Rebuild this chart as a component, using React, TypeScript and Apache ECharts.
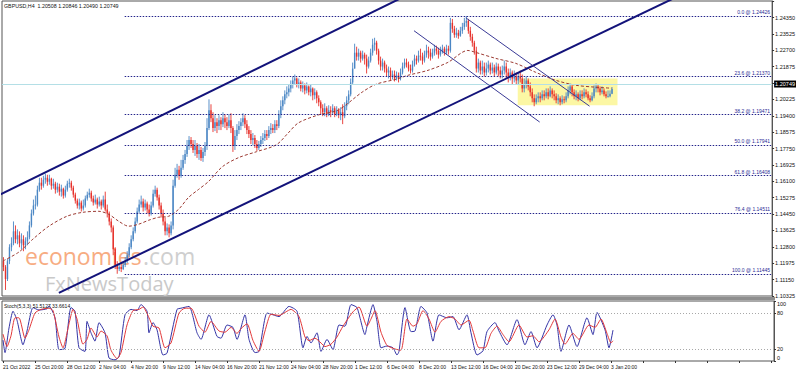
import React, { useEffect, useRef } from 'react';
import * as echarts from 'echarts';

const symbolTitle = 'GBPUSD,H4  1.20508 1.20846 1.20490 1.20749';
const stochTitle = 'Stoch(5,3,3) 51.5127 33.6614';

const dateLabels = ['21 Oct 2022', '25 Oct 20:00', '28 Oct 12:00', '2 Nov 04:00', '4 Nov 20:00', '9 Nov 12:00', '14 Nov 04:00', '16 Nov 20:00', '21 Nov 12:00', '24 Nov 04:00', '28 Nov 20:00', '1 Dec 12:00', '6 Dec 04:00', '8 Dec 20:00', '13 Dec 12:00', '16 Dec 04:00', '20 Dec 20:00', '23 Dec 12:00', '29 Dec 04:00', '3 Jan 20:00'];
const BARS_PER_LABEL = 16;
const TOTAL_SLOTS = 386;

const firstOpen = 1.1208;
const closes = [
  1.1178, 1.1118, 1.1208, 1.1278, 1.1298, 1.1358, 1.1318, 1.1338, 1.1298, 1.1318, 1.1288, 1.1308, 1.1328, 1.1388, 1.1448, 1.1488,
  1.1493, 1.1568, 1.1603, 1.1588, 1.1618, 1.1628, 1.1608, 1.1623, 1.1588, 1.1598, 1.1568, 1.1583, 1.1558, 1.1573, 1.1538, 1.1568,
  1.1598, 1.1603, 1.1578, 1.1543, 1.1513, 1.1488, 1.1503, 1.1473, 1.1488, 1.1523, 1.1543, 1.1553, 1.1523, 1.1503, 1.1518, 1.1493,
  1.1508, 1.1488, 1.1518, 1.1468, 1.1448, 1.1408, 1.1378, 1.1268, 1.1188, 1.1168, 1.1178, 1.1168, 1.1188, 1.1208, 1.1238, 1.1278,
  1.1318, 1.1358, 1.1408, 1.1458, 1.1493, 1.1508, 1.1478, 1.1498, 1.1468, 1.1448, 1.1488, 1.1548, 1.1568, 1.1528, 1.1488, 1.1448,
  1.1408, 1.1358, 1.1378, 1.1348, 1.1388, 1.1588, 1.1643, 1.1668, 1.1638, 1.1678, 1.1718, 1.1748, 1.1788, 1.1818, 1.1798, 1.1768,
  1.1788, 1.1748, 1.1768, 1.1728, 1.1758, 1.1788, 1.1878, 1.1968, 1.1928, 1.1878, 1.1908, 1.1888, 1.1918, 1.1898, 1.1928, 1.1908,
  1.1888, 1.1918, 1.1878, 1.1788, 1.1838, 1.1868, 1.1888, 1.1908, 1.1928, 1.1898, 1.1868, 1.1848, 1.1818, 1.1828, 1.1798, 1.1778,
  1.1798, 1.1818, 1.1828, 1.1848, 1.1838, 1.1868, 1.1878, 1.1868, 1.1898, 1.1888, 1.1948, 1.1988, 1.2018, 1.2048, 1.2058, 1.2078,
  1.2098, 1.2118, 1.2128, 1.2098, 1.2108, 1.2078, 1.2093, 1.2068, 1.2088, 1.2058, 1.2078, 1.2043, 1.2058, 1.2028, 1.2008, 1.1978,
  1.1958, 1.1978, 1.1948, 1.1968, 1.1958, 1.1978, 1.1948, 1.1968, 1.1943, 1.1958, 1.1938, 1.1988, 1.2018, 1.2048, 1.2108, 1.2178,
  1.2258, 1.2238, 1.2258, 1.2228, 1.2248, 1.2228, 1.2188, 1.2218, 1.2258, 1.2298, 1.2308, 1.2268, 1.2218, 1.2188, 1.2208, 1.2178,
  1.2158, 1.2168, 1.2138, 1.2148, 1.2128, 1.2143, 1.2128, 1.2158, 1.2188, 1.2208, 1.2198, 1.2178, 1.2168, 1.2198, 1.2228, 1.2218,
  1.2243, 1.2238, 1.2218, 1.2248, 1.2268, 1.2258, 1.2238, 1.2258, 1.2278, 1.2268, 1.2248, 1.2268, 1.2278, 1.2258, 1.2278, 1.2268,
  1.2408, 1.2378, 1.2348, 1.2358, 1.2343, 1.2368, 1.2388, 1.2408, 1.2418, 1.2368, 1.2338, 1.2308, 1.2268, 1.2178, 1.2208, 1.2168,
  1.2188, 1.2158, 1.2178, 1.2198, 1.2168, 1.2183, 1.2158, 1.2188, 1.2168, 1.2148, 1.2168, 1.2188, 1.2158, 1.2138, 1.2158, 1.2128,
  1.2138, 1.2118, 1.2138, 1.2128, 1.2078, 1.2098, 1.2118, 1.2088, 1.2058, 1.2028, 1.2008, 1.2028, 1.2038, 1.2028, 1.2048, 1.2038,
  1.2058, 1.2038, 1.2068, 1.2048, 1.2038, 1.2018, 1.2028, 1.2008, 1.2023, 1.2018, 1.2038, 1.2068, 1.2088, 1.2058, 1.2038, 1.2048,
  1.2028, 1.2048, 1.2038, 1.2058, 1.2048, 1.2028, 1.2018, 1.2038, 1.2078, 1.2088, 1.2078, 1.2058, 1.2068, 1.2048, 1.2038, 1.2038,
  1.20508, 1.20749,
];
const highs = [
  1.1228, 1.1188, 1.1218, 1.1293, 1.1328, 1.1408, 1.1388, 1.1368, 1.1358, 1.1348, 1.1338, 1.1328, 1.1358, 1.1408, 1.1468, 1.1518,
  1.1538, 1.1588, 1.1628, 1.1628, 1.1638, 1.1648, 1.1643, 1.1643, 1.1628, 1.1623, 1.1608, 1.1603, 1.1598, 1.1593, 1.1578, 1.1588,
  1.1613, 1.1623, 1.1613, 1.1588, 1.1553, 1.1523, 1.1523, 1.1513, 1.1518, 1.1538, 1.1558, 1.1573, 1.1563, 1.1538, 1.1543, 1.1528,
  1.1533, 1.1518, 1.1538, 1.1558, 1.1493, 1.1458, 1.1423, 1.1388, 1.1278, 1.1208, 1.1193, 1.1198, 1.1208, 1.1228, 1.1258, 1.1298,
  1.1338, 1.1378, 1.1428, 1.1478, 1.1518, 1.1538, 1.1523, 1.1518, 1.1508, 1.1493, 1.1508, 1.1568, 1.1588, 1.1578, 1.1543, 1.1503,
  1.1468, 1.1428, 1.1398, 1.1393, 1.1408, 1.1618, 1.1678, 1.1698, 1.1688, 1.1718, 1.1743, 1.1768, 1.1818, 1.1838, 1.1833, 1.1818,
  1.1818, 1.1803, 1.1798, 1.1783, 1.1778, 1.1808, 1.1928, 1.2023, 1.1998, 1.1958, 1.1943, 1.1928, 1.1943, 1.1933, 1.1958, 1.1948,
  1.1933, 1.1948, 1.1953, 1.1888, 1.1868, 1.1898, 1.1913, 1.1928, 1.1953, 1.1943, 1.1918, 1.1888, 1.1868, 1.1853, 1.1843, 1.1818,
  1.1813, 1.1838, 1.1853, 1.1868, 1.1868, 1.1888, 1.1903, 1.1898, 1.1918, 1.1918, 1.1968, 1.2018, 1.2038, 1.2068, 1.2088, 1.2098,
  1.2118, 1.2138, 1.2148, 1.2133, 1.2128, 1.2118, 1.2113, 1.2103, 1.2108, 1.2093, 1.2098, 1.2083, 1.2078, 1.2068, 1.2043, 1.2018,
  1.1998, 1.2003, 1.1988, 1.1993, 1.1988, 1.1998, 1.1988, 1.1988, 1.1978, 1.1983, 1.1998, 1.2008, 1.2038, 1.2068, 1.2128, 1.2208,
  1.2303, 1.2288, 1.2278, 1.2268, 1.2268, 1.2258, 1.2248, 1.2238, 1.2278, 1.2328, 1.2333, 1.2318, 1.2278, 1.2238, 1.2228, 1.2218,
  1.2198, 1.2188, 1.2183, 1.2168, 1.2168, 1.2163, 1.2158, 1.2178, 1.2208, 1.2228, 1.2228, 1.2213, 1.2198, 1.2218, 1.2248, 1.2243,
  1.2268, 1.2278, 1.2258, 1.2268, 1.2298, 1.2288, 1.2278, 1.2278, 1.2298, 1.2293, 1.2283, 1.2288, 1.2298, 1.2288, 1.2298, 1.2293,
  1.2433, 1.2428, 1.2393, 1.2383, 1.2373, 1.2388, 1.2408, 1.2433, 1.24426, 1.2428, 1.2388, 1.2353, 1.2318, 1.2288, 1.2228, 1.2218,
  1.2218, 1.2208, 1.2208, 1.2218, 1.2208, 1.2208, 1.2198, 1.2208, 1.2203, 1.2188, 1.2193, 1.2218, 1.2208, 1.2178, 1.2178, 1.2168,
  1.2168, 1.2158, 1.2158, 1.2168, 1.2148, 1.2128, 1.2138, 1.2128, 1.2108, 1.2078, 1.2048, 1.2048, 1.2058, 1.2058, 1.2068, 1.2068,
  1.2078, 1.2078, 1.2088, 1.2078, 1.2068, 1.2053, 1.2048, 1.2038, 1.2043, 1.2038, 1.2058, 1.2088, 1.2103, 1.2098, 1.2073, 1.2068,
  1.2058, 1.2068, 1.2068, 1.2078, 1.2073, 1.2063, 1.2043, 1.2058, 1.2093, 1.2103, 1.2098, 1.2088, 1.2088, 1.2078, 1.2063, 1.2068,
  1.2068, 1.20846,
];
const lows = [
  1.1158, 1.1063, 1.1108, 1.1193, 1.1258, 1.1288, 1.1298, 1.1293, 1.1278, 1.1268, 1.1258, 1.1268, 1.1288, 1.1318, 1.1378, 1.1438,
  1.1468, 1.1483, 1.1558, 1.1568, 1.1578, 1.1598, 1.1588, 1.1593, 1.1568, 1.1573, 1.1548, 1.1553, 1.1538, 1.1533, 1.1523, 1.1528,
  1.1558, 1.1578, 1.1563, 1.1528, 1.1498, 1.1473, 1.1468, 1.1458, 1.1463, 1.1478, 1.1513, 1.1528, 1.1508, 1.1488, 1.1493, 1.1473,
  1.1483, 1.1468, 1.1478, 1.1458, 1.1428, 1.1388, 1.1353, 1.1238, 1.1168, 1.11445, 1.1158, 1.1153, 1.1163, 1.1178, 1.1198, 1.1228,
  1.1268, 1.1308, 1.1348, 1.1398, 1.1448, 1.1478, 1.1458, 1.1463, 1.1448, 1.1433, 1.1438, 1.1478, 1.1533, 1.1513, 1.1468, 1.1428,
  1.1388, 1.1338, 1.1338, 1.1328, 1.1338, 1.1368, 1.1578, 1.1628, 1.1618, 1.1628, 1.1668, 1.1698, 1.1733, 1.1768, 1.1778, 1.1753,
  1.1738, 1.1728, 1.1718, 1.1713, 1.1708, 1.1738, 1.1768, 1.1868, 1.1908, 1.1858, 1.1863, 1.1853, 1.1868, 1.1868, 1.1883, 1.1878,
  1.1868, 1.1878, 1.1853, 1.1758, 1.1768, 1.1818, 1.1848, 1.1868, 1.1888, 1.1878, 1.1848, 1.1828, 1.1798, 1.1793, 1.1778, 1.1763,
  1.1768, 1.1783, 1.1798, 1.1813, 1.1818, 1.1828, 1.1848, 1.1853, 1.1853, 1.1868, 1.1878, 1.1928, 1.1968, 1.1998, 1.2028, 1.2038,
  1.2058, 1.2078, 1.2098, 1.2083, 1.2078, 1.2063, 1.2058, 1.2048, 1.2053, 1.2043, 1.2038, 1.2018, 1.2023, 1.2003, 1.1988, 1.1948,
  1.1938, 1.1938, 1.1933, 1.1938, 1.1933, 1.1948, 1.1933, 1.1938, 1.1928, 1.1918, 1.1898, 1.1928, 1.1968, 1.1998, 1.2038, 1.2098,
  1.2188, 1.2218, 1.2218, 1.2208, 1.2218, 1.2198, 1.2153, 1.2178, 1.2208, 1.2243, 1.2268, 1.2248, 1.2198, 1.2168, 1.2168, 1.2158,
  1.2138, 1.2128, 1.2118, 1.2123, 1.2113, 1.2118, 1.2108, 1.2118, 1.2148, 1.2178, 1.2183, 1.2163, 1.2153, 1.2158, 1.2188, 1.2198,
  1.2208, 1.2218, 1.2198, 1.2208, 1.2233, 1.2228, 1.2218, 1.2228, 1.2243, 1.2248, 1.2228, 1.2238, 1.2253, 1.2243, 1.2248, 1.2248,
  1.2258, 1.2358, 1.2333, 1.2333, 1.2328, 1.2338, 1.2353, 1.2373, 1.2388, 1.2353, 1.2318, 1.2288, 1.2248, 1.2158, 1.2158, 1.2148,
  1.2148, 1.2138, 1.2143, 1.2158, 1.2148, 1.2153, 1.2138, 1.2148, 1.2138, 1.2128, 1.2128, 1.2148, 1.2128, 1.2108, 1.2118, 1.2098,
  1.2108, 1.2098, 1.2098, 1.2108, 1.2058, 1.2058, 1.2078, 1.2068, 1.2038, 1.2008, 1.1988, 1.1998, 1.2008, 1.2008, 1.2018, 1.2018,
  1.2028, 1.2023, 1.2033, 1.2028, 1.2018, 1.2003, 1.1998, 1.1993, 1.1998, 1.2003, 1.2008, 1.2028, 1.2048, 1.2038, 1.2023, 1.2018,
  1.2013, 1.2018, 1.2023, 1.2028, 1.2033, 1.2018, 1.2008, 1.2013, 1.2028, 1.2058, 1.2058, 1.2043, 1.2048, 1.2038, 1.2028, 1.2033,
  1.2033, 1.20490,
];

// moving average (dashed) read at sample bars: [barIndex, price]
const maPoints = [
  [0, 1.1209], [8, 1.1254], [15, 1.1319], [23, 1.1384], [32, 1.1434], [40, 1.1454], [48, 1.1459], [53, 1.1444],
  [58, 1.1409], [63, 1.1384], [68, 1.1394], [73, 1.1414], [78, 1.1429], [83, 1.1434], [88, 1.1469], [93, 1.1529],
  [98, 1.1569], [103, 1.1609], [110, 1.1684], [118, 1.1729], [127, 1.1759], [137, 1.1794], [143, 1.1854], [148, 1.1904],
  [158, 1.1944], [168, 1.1969], [180, 1.2059], [187, 1.2099], [197, 1.2124], [203, 1.2144], [213, 1.2169], [223, 1.2209],
  [233, 1.2269], [237, 1.2259], [247, 1.2229], [257, 1.2204], [267, 1.2159], [277, 1.2119], [287, 1.2094], [297, 1.2084],
  [305, 1.2079],
];

const stochK = [
  [0, 35], [1, 14], [3, 55], [5, 83], [7, 68], [10, 27], [12, 50], [15, 89], [18, 85], [22, 87], [23, 92], [26, 72], [28, 19],
  [31, 21], [34, 89], [36, 83], [38, 22], [41, 16], [42, 66], [44, 47], [46, 33], [48, 64], [51, 47], [53, 5], [56, 2], [58, 7],
  [61, 77], [64, 86], [67, 84], [69, 94], [72, 83], [73, 47], [75, 64], [77, 52], [80, 10], [82, 13], [87, 86], [89, 88], [93, 91],
  [97, 47], [99, 36], [103, 77], [107, 41], [109, 38], [112, 60], [115, 56], [117, 36], [121, 77], [123, 36], [126, 14], [128, 16],
  [132, 80], [135, 77], [138, 74], [143, 91], [147, 83], [150, 22], [152, 41], [154, 30], [157, 47], [159, 16], [162, 36], [165, 19],
  [168, 60], [171, 58], [174, 94], [177, 89], [181, 44], [182, 58], [185, 94], [187, 66], [189, 22], [192, 25], [195, 22], [197, 10],
  [198, 16], [201, 89], [204, 49], [206, 50], [209, 91], [212, 80], [215, 33], [218, 77], [222, 72], [225, 74], [228, 52], [232, 77],
  [234, 47], [237, 10], [240, 17], [242, 49], [246, 64], [248, 50], [252, 27], [257, 69], [261, 27], [264, 49], [267, 22], [272, 60],
  [275, 77], [277, 60], [279, 16], [283, 60], [287, 24], [292, 72], [295, 44], [297, 81], [301, 52], [303, 22], [305, 51.51],
];
const stochD = [
  [0, 45], [2, 24], [4, 42], [6, 72], [8, 72], [11, 38], [13, 52], [16, 80], [19, 86], [23, 88], [25, 84], [28, 40], [30, 22],
  [33, 62], [35, 86], [37, 70], [40, 28], [42, 36], [44, 55], [47, 40], [49, 50], [52, 42], [54, 18], [57, 4], [59, 14], [62, 60],
  [65, 84], [68, 86], [70, 90], [73, 72], [75, 58], [78, 55], [81, 22], [84, 30], [88, 80], [91, 88], [94, 88], [98, 58], [101, 48],
  [104, 66], [108, 50], [111, 48], [114, 56], [117, 46], [119, 54], [122, 62], [125, 34], [128, 16], [131, 50], [134, 78], [138, 76],
  [144, 86], [148, 74], [151, 40], [153, 34], [156, 38], [159, 30], [161, 24], [164, 28], [167, 40], [170, 58], [175, 82], [178, 90],
  [182, 58], [184, 70], [186, 84], [189, 48], [192, 26], [196, 20], [199, 18], [202, 70], [205, 58], [207, 62], [210, 84], [213, 70],
  [216, 48], [219, 66], [223, 74], [226, 70], [229, 60], [233, 68], [235, 50], [238, 22], [241, 22], [244, 46], [247, 58], [250, 44],
  [253, 32], [258, 60], [262, 40], [265, 42], [268, 32], [273, 52], [276, 70], [279, 40], [281, 28], [285, 46], [288, 36], [293, 60],
  [296, 56], [299, 70], [302, 46], [304, 30], [305, 33.66],
];

const fibLevels = [
  ['0.0', 1.24426], ['23.6', 1.2137], ['38.2', 1.19471], ['50.0', 1.17941], ['61.8', 1.16408], ['76.4', 1.14511], ['100.0', 1.11445],
];
const fibStartBar = 61;

const lastPrice = 1.20749;

// trend lines: [barIndex, price] endpoints
const upperChannel = [[-2, 1.1541], [200, 1.2535]];
const lowerChannel = [[28, 1.1048], [340, 1.2550]];
const downLineA = [[232, 1.24335], [293.5, 1.19885]];
const downLineB = [[206, 1.23685], [268.5, 1.19085]];
const rangeBox = [[258, 1.2128], [308, 1.19935]];

const priceMin = 1.10325;
const priceMax = 1.25181;
const priceStep = 0.00825;
const priceLabelCeil = 1.245;

const BULL = '#4a86c4';
const BEAR = '#e6302a';

export default function App() {
  const ref = useRef<HTMLDivElement>(null);
  useEffect(() => {
    if (!ref.current) return;
    const chart = echarts.init(ref.current, undefined, { renderer: 'svg' });

    const candleData = closes.map((c, i) => {
      const o = i === 0 ? firstOpen : closes[i - 1];
      const h = Math.max(highs[i], o, c);
      const l = Math.min(lows[i], o, c);
      return [i, o, c, l, h];
    });
    const cats = Array.from({ length: TOTAL_SLOTS }, (_, i) =>
      i % BARS_PER_LABEL === 0 && dateLabels[i / BARS_PER_LABEL] ? dateLabels[i / BARS_PER_LABEL] : ''
    );
    const lastSlot = TOTAL_SLOTS - 1;
    const font = 'Liberation Sans, Arial, sans-serif';

    const fibMarks = fibLevels.map(([r, p]) => {
      const ls = { color: '#23238a', type: [1.5, 1.5], width: 1 };
      const lab = {
        show: true,
        position: 'insideEndTop',
        formatter: `${r} @ ${(p as number).toFixed(5)}`,
        color: '#2a2a95',
        fontSize: 5,
        fontFamily: font,
        distance: 1,
      };
      return [
        { coord: [fibStartBar, p], lineStyle: ls, label: lab },
        { coord: [lastSlot, p], lineStyle: ls, label: lab },
      ];
    });

    const renderCandle = (params: any, api: any) => {
      const i = api.value(0);
      const o = api.value(1);
      const c = api.value(2);
      const l = api.value(3);
      const h = api.value(4);
      const pO = api.coord([i, o]);
      const pC = api.coord([i, c]);
      const pL = api.coord([i, l]);
      const pH = api.coord([i, h]);
      const x = pO[0] + 0.5;
      const color = c >= o ? BULL : BEAR;
      const top = Math.min(pO[1], pC[1]);
      const bh = Math.max(Math.abs(pO[1] - pC[1]), 1);
      return {
        type: 'group',
        children: [
          { type: 'line', shape: { x1: x, y1: pH[1], x2: x, y2: pL[1] }, style: { stroke: color, lineWidth: 0.9 } },
          { type: 'rect', shape: { x: x - 0.7, y: top, width: 1.4, height: bh }, style: { fill: color } },
        ],
      };
    };

    const option: any = {
      animation: false,
      backgroundColor: '#ffffff',
      textStyle: { fontFamily: font },
      grid: [
        { left: 2, right: 24, top: 1, height: 295, show: true, borderColor: '#555', borderWidth: 1 },
        { left: 2, right: 24, top: 301, height: 60, show: true, borderColor: '#555', borderWidth: 1 },
      ],
      xAxis: [
        { type: 'category', gridIndex: 0, data: cats, boundaryGap: true, show: false },
        {
          type: 'category', gridIndex: 1, data: cats, boundaryGap: true,
          axisLine: { show: false },
          axisTick: { show: true, interval: BARS_PER_LABEL - 1, alignWithLabel: true, length: 2, lineStyle: { color: '#333' } },
          axisLabel: {
            interval: BARS_PER_LABEL - 1, showMinLabel: true, hideOverlap: false, align: 'left',
            fontSize: 5, margin: 3, color: '#111', fontFamily: font,
          },
        },
      ],
      yAxis: [
        {
          type: 'value', gridIndex: 0, position: 'right', min: priceMin, max: priceMax, interval: priceStep,
          splitLine: { show: false },
          axisLine: { show: true, lineStyle: { color: '#555' } },
          axisTick: { show: true, length: 2, lineStyle: { color: '#333' } },
          axisLabel: {
            showMaxLabel: false, fontSize: 5.5, margin: 3, color: '#111', fontFamily: font,
            formatter: (v: number) => (v > priceLabelCeil ? '' : v.toFixed(5)),
          },
        },
        {
          type: 'value', gridIndex: 1, position: 'right', min: 0, max: 100,
          splitLine: { show: false },
          axisLine: { show: true, lineStyle: { color: '#555' } },
          axisTick: { show: true, length: 2, customValues: [0, 20, 80, 100], lineStyle: { color: '#333' } },
          axisLabel: {
            customValues: [0, 20, 80, 100], fontSize: 5.5, margin: 3, color: '#111', fontFamily: font,
            verticalAlignMaxLabel: 'top', verticalAlignMinLabel: 'bottom',
          },
        },
      ],
      series: [
        {
          type: 'line', xAxisIndex: 0, yAxisIndex: 0, z: 1, silent: true,
          data: rangeBox, showSymbol: false, lineStyle: { opacity: 0 },
          markArea: {
            silent: true,
            itemStyle: { color: '#fcf7a4', opacity: 1 },
            data: [[{ coord: rangeBox[0] }, { coord: rangeBox[1] }]],
          },
          markLine: {
            silent: true,
            symbol: ['none', 'none'],
            data: [
              ...fibMarks,
              {
                yAxis: lastPrice,
                lineStyle: { color: '#b4dfe6', type: 'solid', width: 1 },
                label: {
                  show: true, position: 'end', distance: 2, formatter: lastPrice.toFixed(5),
                  backgroundColor: '#000', color: '#fff', fontSize: 5.5, padding: [1, 1, 0, 1], fontFamily: font,
                },
              },
            ],
          },
        },
        {
          type: 'custom', xAxisIndex: 0, yAxisIndex: 0, z: 3, clip: true, silent: true,
          data: candleData,
          encode: { x: 0, y: [1, 2, 3, 4] },
          renderItem: renderCandle,
        },
        {
          type: 'line', xAxisIndex: 0, yAxisIndex: 0, z: 4, data: maPoints, showSymbol: false, silent: true, smooth: 0.3,
          lineStyle: { color: '#9c3a32', width: 1, type: [3, 2] },
        },
        {
          type: 'line', xAxisIndex: 0, yAxisIndex: 0, z: 5, data: upperChannel, showSymbol: false, silent: true, clip: true,
          lineStyle: { color: '#13137a', width: 2 },
        },
        {
          type: 'line', xAxisIndex: 0, yAxisIndex: 0, z: 5, data: lowerChannel, showSymbol: false, silent: true, clip: true,
          lineStyle: { color: '#13137a', width: 2 },
        },
        {
          type: 'line', xAxisIndex: 0, yAxisIndex: 0, z: 5, data: downLineA, showSymbol: false, silent: true,
          lineStyle: { color: '#3a3a96', width: 1 },
        },
        {
          type: 'line', xAxisIndex: 0, yAxisIndex: 0, z: 5, data: downLineB, showSymbol: false, silent: true,
          lineStyle: { color: '#3a3a96', width: 1 },
        },
        {
          type: 'line', xAxisIndex: 1, yAxisIndex: 1, z: 3, data: stochK, showSymbol: false, silent: true, smooth: 0.2,
          lineStyle: { color: '#3434a6', width: 1 },
          markLine: {
            silent: true, symbol: ['none', 'none'], label: { show: false },
            lineStyle: { color: '#a8a8a8', type: [1, 2], width: 1 },
            data: [{ yAxis: 80 }, { yAxis: 20 }],
          },
        },
        {
          type: 'line', xAxisIndex: 1, yAxisIndex: 1, z: 4, data: stochD, showSymbol: false, silent: true, smooth: 0.2,
          lineStyle: { color: '#e2393a', width: 1 },
        },
      ],
      graphic: [
        { type: 'rect', z: 10, shape: { x: 0, y: 297, width: 775, height: 3 }, style: { fill: '#8e8e8e' } },
        { type: 'text', z: 10, left: 4, top: 3, style: { text: symbolTitle, fill: '#111', font: `5.3px ${font}` } },
        { type: 'text', z: 10, left: 4, top: 303, style: { text: stochTitle, fill: '#111', font: `5px ${font}` } },
        {
          type: 'text', z: 0, silent: true, x: 25, y: 256,
          style: { text: 'economies', fill: '#f7ac82', font: '23px "Open Sans"', verticalAlign: 'middle', lineHeight: 22 },
        },
        {
          type: 'text', z: 0, silent: true, x: 143, y: 256,
          style: { text: '.com', fill: '#cfcfcf', font: '23px "Open Sans"', verticalAlign: 'middle', lineHeight: 22 },
        },
        {
          type: 'text', z: 0, silent: true, x: 45, y: 283,
          style: { text: 'FxNewsToday', fill: '#c9c9c9', font: '20px "Open Sans"', verticalAlign: 'middle', lineHeight: 18 },
        },
      ],
    };

    chart.setOption(option);
    return () => chart.dispose();
  }, []);

  return (
    <div
      ref={ref}
      style={{ position: 'fixed', left: 0, top: 0, width: 798, height: 372, background: '#fff' }}
    />
  );
}
